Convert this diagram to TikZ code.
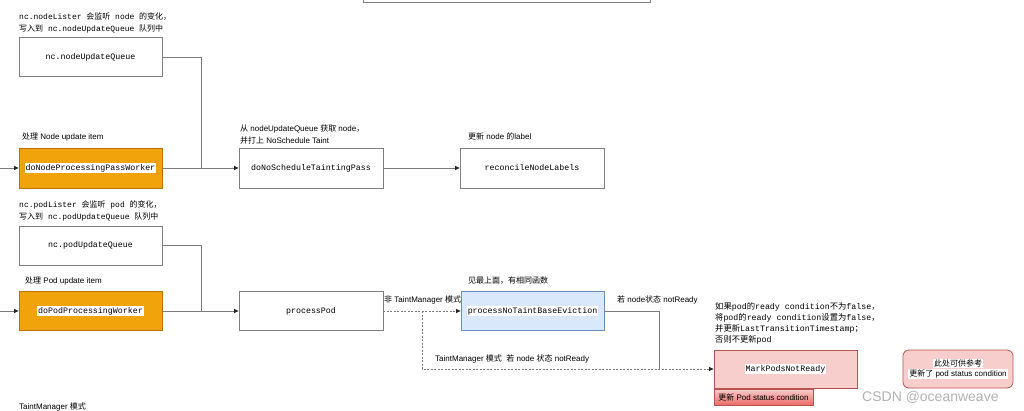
\documentclass[tikz,border=0pt]{standalone}
\usepackage{fontspec}
\setmainfont{Liberation Sans}
\setmonofont{Liberation Mono}
\newfontfamily\cjk{Noto Sans CJK SC}
\usetikzlibrary{arrows.meta}
\definecolor{orangef}{HTML}{F0A30A}
\definecolor{oranged}{HTML}{BD7000}
\definecolor{bluef}{HTML}{DAE8FC}
\definecolor{blued}{HTML}{6C8EBF}
\definecolor{redf}{HTML}{F8CECC}
\definecolor{redd}{HTML}{B85450}
\definecolor{redg}{HTML}{EA6B66}
\definecolor{edgec}{HTML}{7A7A7A}
\definecolor{boxc}{HTML}{7F7F7F}
\newcommand\wbg[1]{{\setlength{\fboxsep}{1pt}\colorbox{white}{#1}}}
\begin{document}
\begin{tikzpicture}[x=1pt,y=-1pt,
  box/.style={draw=boxc, line width=0.8pt, minimum width=143pt, minimum height=39pt, inner sep=0pt, font=\ttfamily\fontsize{8.3}{10}\selectfont},
  obox/.style={box, fill=orangef, draw=oranged},
  bbox/.style={box, fill=bluef, draw=blued},
  rbox/.style={box, fill=redf, draw=redd},
  lbl/.style={inner sep=0pt, anchor=north west, align=left, font=\fontsize{8}{12}\selectfont},
  conn/.style={draw=edgec, line width=0.8pt},
  arr/.style={conn, -{Triangle[length=4.5pt,width=4pt,color=black!85]}},
  dsh/.style={dash pattern=on 2pt off 1.5pt},
]
\useasboundingbox (0,0) rectangle (1024,411);
\clip (0,0) rectangle (1024,411);

% partial top box
\node[draw=boxc, line width=0.8pt, minimum width=287pt, minimum height=40pt, inner sep=0pt] (top) at (506.5,-18) {};

% node row
\node[lbl, font=\ttfamily\fontsize{8}{12}\selectfont] (t1) at (19,13) {nc.nodeLister {\cjk 会监听} node {\cjk 的变化，}\\{\cjk 写入到} nc.nodeUpdateQueue {\cjk 队列中}};
\node[box] (nodeQ) at (90.5,57) {nc.nodeUpdateQueue};
\node[lbl] (t2) at (22,133) {{\cjk 处理} Node update item};
\node[obox, minimum height=40pt] (nodeW) at (90.5,168) {\wbg{doNodeProcessingPassWorker}};
\node[lbl] (t3) at (240,125) {{\cjk 从} nodeUpdateQueue {\cjk 获取} node{\cjk ，}\\{\cjk 并打上} NoSchedule Taint};
\node[box, minimum width=144pt, minimum height=40pt] (taint) at (311,168) {doNoScheduleTaintingPass};
\node[lbl] (t4) at (468,133) {{\cjk 更新} node {\cjk 的}label};
\node[box, minimum width=144pt, minimum height=40pt] (recon) at (532,168) {reconcileNodeLabels};

\coordinate (in1) at (0,168);
\coordinate (j1) at (201,168);
\draw[arr] (in1) -- (nodeW.west);
\draw[conn] (nodeQ.east) -| (j1);
\draw[arr] (nodeW.east) -- (taint.west);
\draw[arr] (taint.east) -- (recon.west);

% pod row
\node[lbl, font=\ttfamily\fontsize{8}{12}\selectfont] (t5) at (19,201) {nc.podLister {\cjk 会监听} pod {\cjk 的变化，}\\{\cjk 写入到} nc.podUpdateQueue {\cjk 队列中}};
\node[box] (podQ) at (90.5,245.5) {nc.podUpdateQueue};
\node[lbl] (t6) at (25,277) {{\cjk 处理} Pod update item};
\node[obox] (podW) at (90.5,311) {\wbg{doPodProcessingWorker}};
\node[box, minimum width=144pt] (proc) at (311,311) {processPod};
\node[lbl] (t7) at (468,277) {{\cjk 见最上面，有相同函数}};
\node[bbox] (noT) at (532.5,311) {\wbg{processNoTaintBaseEviction}};
\node[lbl] (t8) at (384,296) {{\cjk 非} TaintManager {\cjk 模式}};
\node[lbl] (t9) at (617,296) {{\cjk 若} node{\cjk 状态} notReady};
\node[lbl] (t10) at (435,355) {TaintManager {\cjk 模式}\ \ {\cjk 若} node {\cjk 状态} notReady};
\node[lbl, font=\ttfamily\fontsize{8.3}{11}\selectfont] (t11) at (715,302) {{\cjk 如果}pod{\cjk 的}ready condition{\cjk 不为}false{\cjk ，}\\{\cjk 将}pod{\cjk 的}ready condition{\cjk 设置为}false{\cjk ，}\\{\cjk 并更新}LastTransitionTimestamp{\cjk ；}\\{\cjk 否则不更新}pod};
\node[rbox, minimum height=38pt] (mark) at (785.5,369) {\wbg{MarkPodsNotReady}};
\node[draw=redd, line width=0.8pt, top color=redf, bottom color=redg, minimum width=99pt, minimum height=16pt, inner sep=0pt, font=\fontsize{8}{10}\selectfont] (upd) at (763.5,397) {{\cjk 更新} Pod status condition};
\node[rbox, rounded corners=6pt, minimum width=110pt, minimum height=38pt, font=\fontsize{8}{11}\selectfont, align=center] (ref) at (958,369) {\wbg{\cjk 此处可供参考}\\[-1pt]\wbg{{\cjk 更新了} pod status condition}};
\node[lbl] (t12) at (19,403) {TaintManager {\cjk 模式}};
\node[inner sep=0pt, anchor=west, text=black!30, font=\fontsize{14}{14}\selectfont] (wm) at (862,397) {CSDN @oceanweave};

\coordinate (in2) at (0,311);
\coordinate (j2) at (201,311);
\coordinate (d1) at (422,311);
\coordinate (k1) at (659,369);
\draw[arr] (in2) -- (podW.west);
\draw[conn] (podQ.east) -| (j2);
\draw[arr] (podW.east) -- (proc.west);
\draw[arr, dsh] (proc.east) -- (noT.west);
\draw[conn] (noT.east) -| (k1);
\draw[arr, dsh] (d1) |- (mark.west);
\end{tikzpicture}
\end{document}
